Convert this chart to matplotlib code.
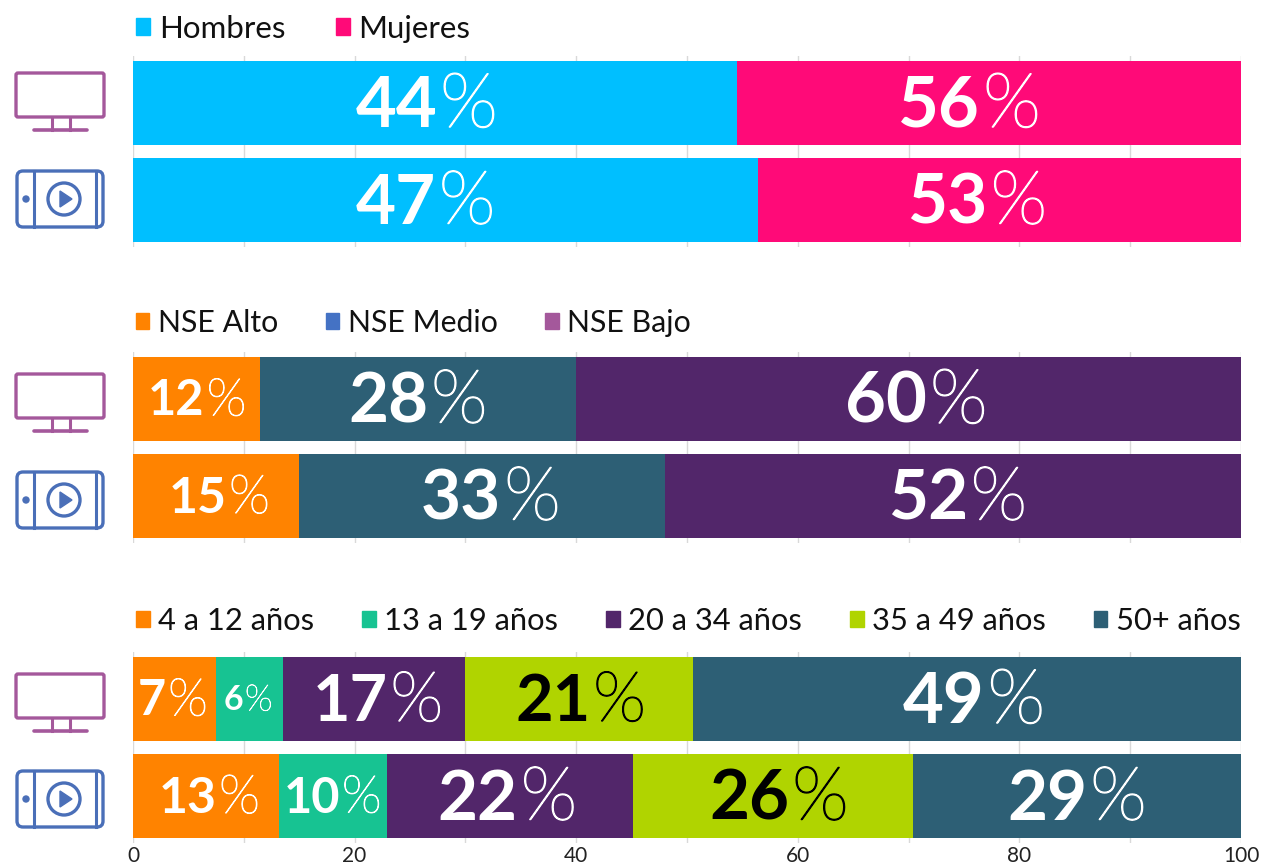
import matplotlib
matplotlib.use("Agg")
import matplotlib.pyplot as plt
import matplotlib.patheffects as pe
from matplotlib.patches import Patch, FancyBboxPatch, Circle, Polygon

W, H = 1261, 868
plt.rcParams["font.family"] = ["Lato", "DejaVu Sans"]

ORANGE = "#ff8300"
TEAL = "#2d5f75"
PURPLE = "#52266a"
LIME = "#b0d400"
GREEN = "#17c392"
CYAN = "#00bfff"
PINK = "#ff0a78"
TV_COLOR = "#a4589b"
TABLET_COLOR = "#4a6fb8"

# widths, labels are what the picture prints on them
gender_tv = [54.5, 45.5]
gender_tablet = [56.4, 43.6]
gender_colors = [CYAN, PINK]
gender_legend = ["Hombres", "Mujeres"]
gender_legend_colors = [CYAN, PINK]
gender_labels = [[44, 56], [47, 53]]
gender_label_x = [[26.5, 75.5], [26.4, 76.2]]
gender_sizes = [[48, 48], [47, 47]]

nse_tv = [11.5, 28.5, 60.0]
nse_tablet = [15.0, 33.0, 52.0]
nse_colors = [ORANGE, TEAL, PURPLE]
nse_legend = ["NSE Alto", "NSE Medio", "NSE Bajo"]
nse_legend_colors = [ORANGE, "#4472c4", TV_COLOR]
nse_labels = [[12, 28, 60], [15, 33, 52]]
nse_label_x = [[5.8, 25.7, 70.7], [7.8, 32.3, 74.4]]
nse_sizes = [[33, 47, 48], [34, 47, 47]]

age_tv = [7.5, 6.0, 16.5, 20.5, 49.5]
age_tablet = [13.2, 9.7, 22.2, 25.3, 29.6]
age_colors = [ORANGE, GREEN, PURPLE, LIME, TEAL]
age_legend = ["4 a 12 años", "13 a 19 años", "20 a 34 años", "35 a 49 años", "50+ años"]
age_legend_colors = [ORANGE, GREEN, PURPLE, LIME, TEAL]
age_labels = [[7, 6, 17, 21, 49], [13, 10, 22, 26, 29]]
age_label_x = [[3.6, 10.4, 22.1, 40.4, 75.9], [6.9, 18.0, 33.8, 58.3, 85.2]]
age_sizes = [[33, 23, 44, 44, 48], [34, 33, 47, 47, 47]]
age_text_colors = [["white", "white", "white", "black", "white"],
                   ["white", "white", "white", "black", "white"]]

ticks = list(range(0, 101, 20))
gridlines = list(range(0, 101, 10))


def text_width(fig, s, size, weight):
    t = fig.text(0, 0, s, fontsize=size, fontweight=weight)
    w = t.get_window_extent(fig.canvas.get_renderer()).width
    t.remove()
    return w


def drawLabel(fig, ax, x, row, value, size, color):
    # bold number + light percent sign, centred together on x
    num = str(value)
    num_size = size * 1.06
    pct_size = size * 1.14
    wn = text_width(fig, num, num_size, "bold")
    wp = text_width(fig, "%", pct_size, "light")
    gap = size * 0.06
    left = -(wn + wp + gap) / 2
    base = -size * 0.5
    ax.annotate(num, xy=(x, row), xytext=(left, base), textcoords="offset pixels",
                fontsize=num_size, fontweight="bold", color=color,
                ha="left", va="baseline", zorder=4)
    # the light cut alone is too thin, thicken it a bit
    ax.annotate("%", xy=(x, row), xytext=(left + wn + gap, base), textcoords="offset pixels",
                fontsize=pct_size, fontweight="light", color=color,
                ha="left", va="baseline", zorder=4,
                path_effects=[pe.withStroke(linewidth=size * 0.022, foreground=color)])


def drawPanel(fig, top, legend_gap, legend_size, col_space, rows, colors, labels, label_x, sizes,
              legend, legend_colors, text_colors=None, show_ticks=False):
    ax = fig.add_axes([133 / W, 1 - (top + 191) / H, 1108 / W, 191 / H])
    for i, row in enumerate(rows):
        left = 0
        for j, width in enumerate(row):
            ax.barh(i, width, left=left, height=0.866, color=colors[j], zorder=3)
            left += width
        for j, value in enumerate(labels[i]):
            color = text_colors[i][j] if text_colors else "white"
            drawLabel(fig, ax, label_x[i][j], i, value, sizes[i][j], color)
    ax.set_xlim(0, 100)
    ax.set_ylim(1.484, -0.484)
    ax.set_xticks(gridlines)
    ax.set_yticks([])
    ax.grid(axis="x", color="#d9d9d9", linewidth=1, zorder=0)
    ax.tick_params(axis="x", length=0, labelbottom=False)
    for spine in ax.spines.values():
        spine.set_visible(False)
    if show_ticks:
        for t in ticks:
            ax.annotate(str(t), xy=(t, 0), xycoords=("data", "axes fraction"),
                        xytext=(0, -13), textcoords="offset pixels",
                        ha="center", va="center", fontsize=15, color="#222222")
    handles = [Patch(color=c) for c in legend_colors]
    ax.legend(handles, legend, ncol=len(legend), frameon=False,
              loc="lower left", bbox_to_anchor=(0, 1 + legend_gap / 191), borderaxespad=0, borderpad=0.1,
              handlelength=0.44, handleheight=0.44, handletextpad=0.28,
              columnspacing=col_space, fontsize=legend_size, labelcolor="#111111")
    return ax


def drawTv(ov, y):
    ov.add_patch(FancyBboxPatch((16, y + 1), 88, 44, boxstyle="round,pad=0,rounding_size=2",
                                fc="none", ec=TV_COLOR, lw=2.4))
    ov.plot([52, 52], [y + 46, y + 58], color=TV_COLOR, lw=2.2)
    ov.plot([70, 70], [y + 46, y + 58], color=TV_COLOR, lw=2.2)
    ov.plot([34, 87], [y + 58, y + 58], color=TV_COLOR, lw=2.6, solid_capstyle="round")


def drawTablet(ov, y):
    ov.add_patch(FancyBboxPatch((17, y + 1), 86, 56, boxstyle="round,pad=0,rounding_size=6",
                                fc="none", ec=TABLET_COLOR, lw=2.4))
    ov.plot([34, 34], [y + 1, y + 57], color=TABLET_COLOR, lw=2.2)
    ov.plot([96, 96], [y + 1, y + 57], color=TABLET_COLOR, lw=2.2)
    ov.add_patch(Circle((26, y + 29), 3, color=TABLET_COLOR))
    ov.add_patch(Circle((64, y + 29), 16, fc="none", ec=TABLET_COLOR, lw=2.4))
    ov.add_patch(Polygon([(60, y + 21), (60, y + 37), (72, y + 29)], color=TABLET_COLOR))


def main():
    fig = plt.figure(figsize=(W / 100, H / 100), dpi=100, facecolor="white")

    drawPanel(fig, 56, 10, 22.5, 1.62, [gender_tv, gender_tablet], gender_colors, gender_labels,
              gender_label_x, gender_sizes, gender_legend, gender_legend_colors)
    drawPanel(fig, 352, 12, 21.8, 1.58, [nse_tv, nse_tablet], nse_colors, nse_labels,
              nse_label_x, nse_sizes, nse_legend, nse_legend_colors)
    drawPanel(fig, 652, 14, 22.2, 1.55, [age_tv, age_tablet], age_colors, age_labels,
              age_label_x, age_sizes, age_legend, age_legend_colors,
              text_colors=age_text_colors, show_ticks=True)

    # icons sit left of the bars, overlay in pixel coordinates
    ov = fig.add_axes([0, 0, 1, 1], zorder=5)
    ov.set_xlim(0, W)
    ov.set_ylim(H, 0)
    ov.axis("off")
    for y in (72, 373, 673):
        drawTv(ov, y)
    for y in (170, 471, 770):
        drawTablet(ov, y)

    fig.savefig("out.png", dpi=100)


if __name__ == "__main__":
    main()
